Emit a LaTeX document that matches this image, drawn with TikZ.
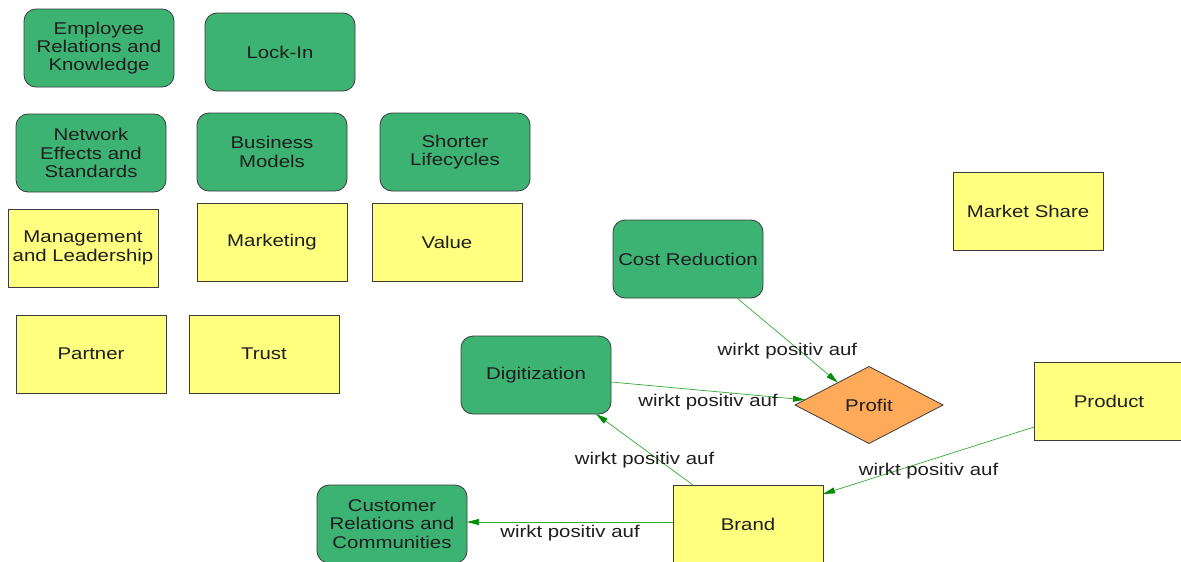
\documentclass[tikz,border=0pt]{standalone}
\usepackage{fontspec}
\setmainfont{Liberation Sans}[FakeStretch=1.2]
\usetikzlibrary{shapes.geometric,arrows.meta,calc}
\definecolor{boxgreen}{RGB}{60,178,115}
\definecolor{boxyellow}{RGB}{255,255,128}
\definecolor{boxorange}{RGB}{255,170,88}
\definecolor{edgegreen}{RGB}{50,172,50}
\definecolor{tipgreen}{RGB}{0,140,0}
\definecolor{framegray}{RGB}{60,60,60}
\definecolor{textgray}{RGB}{30,30,30}
\tikzset{
  every node/.style={font=\fontsize{17}{18.3}\selectfont, text=textgray, align=center, inner sep=1pt, outer sep=0pt},
  factor/.style={draw=framegray, line width=0.8pt, fill=boxgreen, rounded corners=12pt,
                 minimum width=150pt, minimum height=78pt},
  asset/.style={draw=framegray, line width=0.8pt, fill=boxyellow,
                minimum width=150pt, minimum height=78pt},
  goal/.style={draw=framegray, line width=0.8pt, fill=boxorange, diamond, aspect=1.92,
               minimum width=148pt, minimum height=77pt, inner sep=0pt},
  effect/.style={draw=edgegreen, line width=0.7pt,
                 -{Triangle[length=12pt,width=6pt,fill=tipgreen,color=tipgreen]}},
  effectlabel/.style={midway, yshift=-11pt}
}
\begin{document}
\begin{tikzpicture}[x=1pt,y=-1pt]
\useasboundingbox (0,0) rectangle (1181,562);
\fill[white] (0,0) rectangle (1181,562);

% success factors (green)
\node[factor] (emp)   at (99,48)   {Employee\\Relations and\\Knowledge};
\node[factor] (lock)  at (280,52)  {Lock-In};
\node[factor] (net)   at (91,153)  {Network\\Effects and\\Standards};
\node[factor] (bus)   at (272,152) {Business\\Models};
\node[factor] (short) at (455,152) {Shorter\\Lifecycles};
\node[factor] (cost)  at (688,259) {Cost Reduction};
\node[factor] (dig)   at (536,375) {Digitization};
\node[factor] (cust)  at (392,524) {Customer\\Relations and\\Communities};

% assets (yellow)
\node[asset] (mgmt)    at (83,248)   {Management\\and Leadership};
\node[asset] (mkt)     at (272,242)  {Marketing};
\node[asset] (val)     at (447,242)  {Value};
\node[asset] (partner) at (91,354)   {Partner};
\node[asset] (trust)   at (264,354)  {Trust};
\node[asset] (mshare)  at (1028,211) {Market Share};
\node[asset] (product) at (1109,401) {Product};
\node[asset] (brand)   at (748,524)  {Brand};

% goal
\node[goal] (profit) at (869,405) {Profit};

% effects
\draw[effect] ($(cost.south)+(49,0)$) -- ($(profit.north)!0.42!(profit.west)$)
  node[effectlabel] {wirkt positiv auf};
\draw[effect] ($(dig.east)+(0,7)$) -- ($(profit.west)!0.135!(profit.north)$)
  node[effectlabel] {wirkt positiv auf};
\draw[effect] ($(brand.north)+(-55,0)$) -- ($(dig.south)+(60,0)$)
  node[effectlabel] {wirkt positiv auf};
\draw[effect] ($(product.west)+(0,26)$) -- ($(brand.east)+(0,-30)$)
  node[effectlabel] {wirkt positiv auf};
\draw[effect] ($(brand.west)+(0,-2)$) -- ($(cust.east)+(0,-2)$)
  node[effectlabel] {wirkt positiv auf};
\end{tikzpicture}
\end{document}
